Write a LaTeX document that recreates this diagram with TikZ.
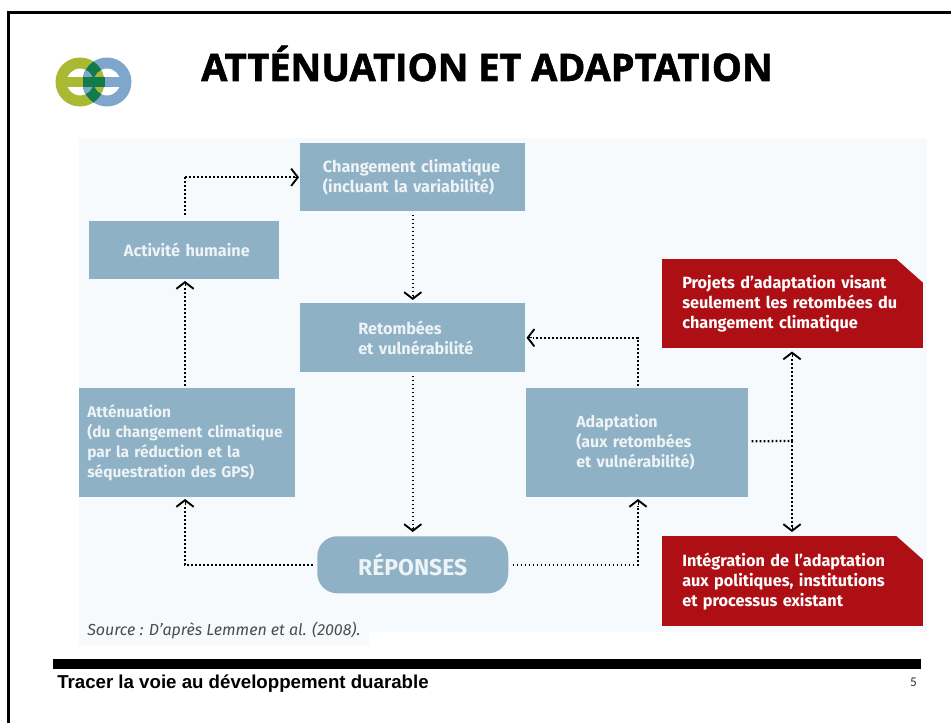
\documentclass[tikz,border=0pt]{standalone}
\usepackage{fontspec}
\usetikzlibrary{arrows.meta,calc}
\setmainfont{Liberation Sans}
\newfontfamily\diagfont{Fira Sans}
\newfontfamily\pagefont{Carlito}
\newfontfamily\titlefont[BoldFeatures={FakeBold=1.6}]{Open Sans}
\definecolor{panel}{HTML}{F7FAFC}
\definecolor{boxblue}{HTML}{8FB1C5}
\definecolor{boxtext}{HTML}{EEF3F6}
\definecolor{redbox}{HTML}{AE0F14}
\definecolor{logoolive}{HTML}{A9BA32}
\definecolor{logoblue}{HTML}{7FA7CB}
\definecolor{logogreen}{HTML}{137A4B}
\newcommand{\I}[2]{\hspace*{#1}#2}
\tikzset{
  x=0.75pt,y=-0.75pt,
  bluebox/.style={fill=boxblue,text=boxtext,inner sep=0pt,anchor=north west,align=left,
    font=\diagfont\fontsize{12.2}{15}\selectfont\bfseries},
  redb/.style={fill=redbox,text=white,inner sep=0pt,anchor=north west,align=left,
    font=\diagfont\fontsize{12.2}{15}\selectfont\bfseries,
    minimum width=195.75pt,text width=195.75pt},
  link/.style={black,line width=1.7pt,dash pattern=on 1.4pt off 1.6pt},
  tip/.style={-{Straight Barb[length=5pt,width=13pt,line width=1.4pt]}},
}
\begin{document}
\begin{tikzpicture}
\useasboundingbox (0,0) rectangle (951,723);
\fill[white] (0,0) rectangle (951,723);
% frame
\fill[black] (7,11) rectangle (951,14);
\fill[black] (7,11) rectangle (10,723);
% logo
\begin{scope}
  \fill[logoolive,even odd rule] (80,82) circle (24.5) (80,82) circle (13.5);
  \fill[logoblue,even odd rule] (107,82) circle (24.5) (107,82) circle (13.5);
  \begin{scope}
    \clip (80,82) circle (24.5);
    \fill[logogreen,even odd rule] (107,82) circle (24.5) (107,82) circle (13.5);
  \end{scope}
  \begin{scope}
    \clip (80,82) circle (13.5);
    \fill[logoblue,even odd rule] (107,82) circle (24.5) (107,82) circle (13.5);
  \end{scope}
  \fill[logoolive] (66,77) rectangle (83,87);
  \fill[logoblue] (104,77) rectangle (121,87);
  \fill[logogreen] (82.5,77) rectangle (104.5,87);
\end{scope}
% title
\node[name=title,anchor=base west,inner sep=0pt,font=\titlefont\fontsize{28.4}{30}\selectfont\bfseries] at (201,81) {ATTÉNUATION ET ADAPTATION};
% panel
\fill[panel] (79,138) rectangle (927,632);
\fill[panel] (79,632) rectangle (369,645);
% boxes
\node[bluebox,minimum width=168.75pt,minimum height=51pt,text width=168.75pt] (chg) at (300,143)
  {\I{17pt}{Changement climatique}\\\I{17pt}{(incluant la variabilité)}};
\node[bluebox,minimum width=142.5pt,minimum height=43.5pt,text width=142.5pt] (act) at (89,221)
  {\I{26pt}{Activité humaine}};
\node[bluebox,minimum width=168.75pt,minimum height=51.75pt,text width=168.75pt] (ret) at (300,303)
  {\I{43.5pt}{Retombées}\\\I{43.5pt}{et vulnérabilité}};
\node[bluebox,minimum width=162pt,minimum height=81.75pt,text width=162pt,
  font=\diagfont\fontsize{11.6}{15}\selectfont\bfseries] (att) at (79,388)
  {\I{6pt}{Atténuation}\\\I{6pt}{(du changement climatique}\\\I{6pt}{par la réduction et la}\\\I{6pt}{séquestration des GPS)}};
\node[bluebox,minimum width=166.5pt,minimum height=81.75pt,text width=166.5pt,
  font=\diagfont\fontsize{12}{15}\selectfont\bfseries] (ada) at (526,388)
  {\I{37.5pt}{Adaptation}\\\I{37.5pt}{(aux retombées}\\\I{37.5pt}{et vulnérabilité)}};
\node[bluebox,rounded corners=15pt,minimum width=143.25pt,minimum height=42.75pt,align=center,
  font=\diagfont\fontsize{17.2}{20}\selectfont\bfseries] (rep) at (317,536) {RÉPONSES};
\node[redb,minimum height=66.75pt] (rA) at (662,259)
  {\I{15pt}{Projets d’adaptation visant}\\\I{15pt}{seulement les retombées du}\\\I{15pt}{changement climatique}};
\node[redb,minimum height=67.5pt] (rB) at (662,536)
  {\I{15pt}{Intégration de l’adaptation}\\\I{15pt}{aux politiques, institutions}\\\I{15pt}{et processus existant}};
\fill[panel] ($(rA.north east)+(-27,0)$) -- ($(rA.north east)+(1,0)$) -- ($(rA.north east)+(1,24)$) -- ($(rA.north east)+(0,24)$) -- cycle;
\fill[panel] ($(rB.north east)+(-27,0)$) -- ($(rB.north east)+(1,0)$) -- ($(rB.north east)+(1,24)$) -- ($(rB.north east)+(0,24)$) -- cycle;
% connector points
\coordinate (j) at (792,441);
\coordinate (actTop) at (185,215);
\coordinate (actBot) at (185,281);
\coordinate (attTop) at (185,386);
\coordinate (attBot) at (185,499);
\coordinate (adaTop) at (638,386);
\coordinate (adaBot) at (638,499);
% connectors
\draw[link] (actTop) -- (actTop |- chg.west) coordinate (c1);
\draw[link] (c1) -- ($(chg.west)+(-5,0)$);
\draw[tip,black] ($(chg.west)+(-6,0)$) -- ($(chg.west)+(-1,0)$);
\draw[link] (attTop) -- ($(actBot)+(0,6)$);
\draw[tip,black] ($(actBot)+(0,5)$) -- (actBot);
\draw[link] ($(chg.south)+(0,3)$) -- ($(ret.north)+(0,-7)$);
\draw[tip,black] ($(ret.north)+(0,-8)$) -- ($(ret.north)+(0,-3)$);
\draw[link] ($(ret.south)+(0,3)$) -- ($(rep.north)+(0,-8)$);
\draw[tip,black] ($(rep.north)+(0,-9)$) -- ($(rep.north)+(0,-4)$);
\draw[link] (adaTop) -- (adaTop |- ret.east) -- ($(ret.east)+(7,0)$);
\draw[tip,black] ($(ret.east)+(6,0)$) -- ($(ret.east)+(1,0)$);
\draw[link] ($(rep.west)+(-4,0)$) -- (rep.west -| attBot) -- ($(attBot)+(0,7)$);
\draw[tip,black] ($(attBot)+(0,6)$) -- (attBot);
\draw[link] ($(rep.east)+(4,0)$) -- (rep.east -| adaBot) -- ($(adaBot)+(0,7)$);
\draw[tip,black] ($(adaBot)+(0,6)$) -- (adaBot);
\draw[link] ($(ada.east)+(3,-1.5)$) -- (j);
\draw[link] (j) -- ($(j |- rA.south)+(0,9)$);
\draw[tip,black] ($(j |- rA.south)+(0,8)$) -- ($(j |- rA.south)+(0,3)$);
\draw[link] (j) -- ($(j |- rB.north)+(0,-8)$);
\draw[tip,black] ($(j |- rB.north)+(0,-9)$) -- ($(j |- rB.north)+(0,-4)$);
% source
\node[name=src,anchor=base west,inner sep=0pt,text=black!70,font=\diagfont\fontsize{12}{14}\selectfont\itshape] at (87,636) {Source : D’après Lemmen et al. (2008).};
% footer
\fill[black] (53,659) rectangle (921,669);
\node[name=foot,anchor=base west,inner sep=0pt,font=\fontsize{14}{16}\selectfont\bfseries] at (57,689) {Tracer la voie au développement duarable};
\node[name=pnum,anchor=base,inner sep=0pt,text=black!80,font=\pagefont\fontsize{10}{12}\selectfont] at (913.5,687) {5};
\end{tikzpicture}
\end{document}
